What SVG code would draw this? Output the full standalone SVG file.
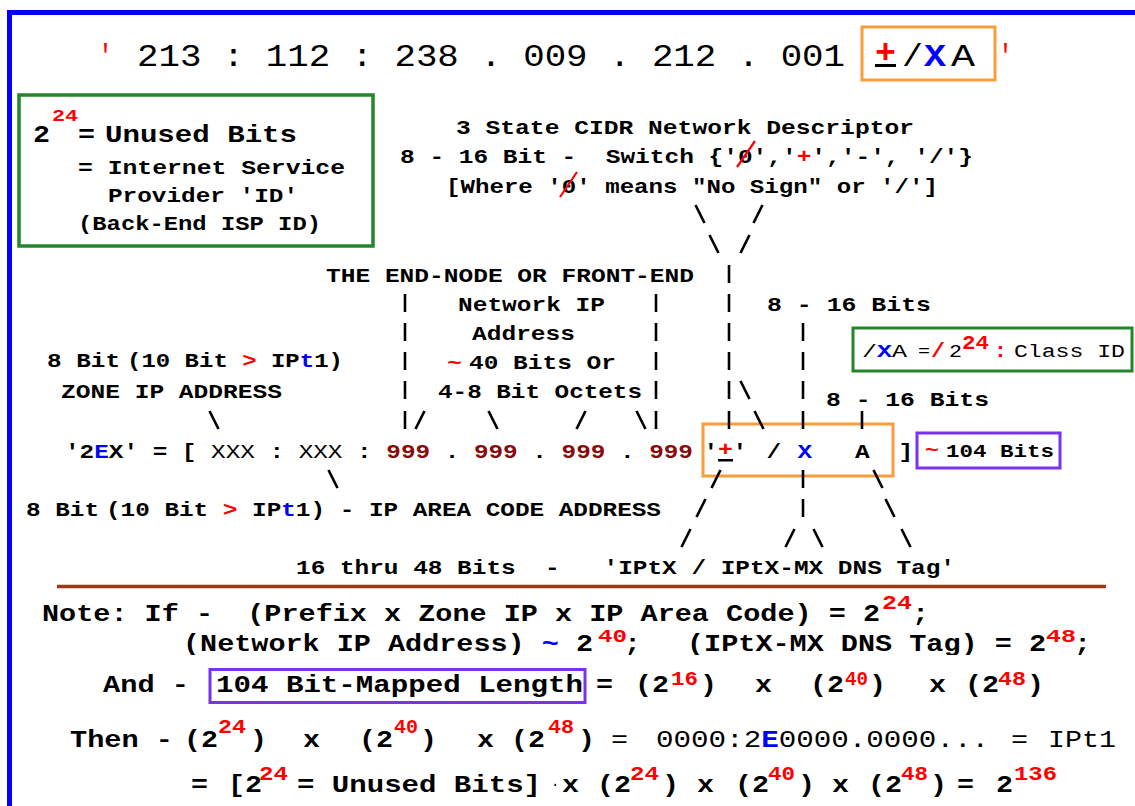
<svg xmlns="http://www.w3.org/2000/svg" width="1135" height="806" viewBox="0 0 1135 806">
<defs>
<style>
text{font-family:"Liberation Mono","Courier New",monospace;font-weight:bold;fill:#000;white-space:pre}
.n{font-weight:normal}
.r{fill:#ff0000}
.bl{fill:#0000ff}
.dr{fill:#8b0a0a}
.a{font-size:21px}
.g{font-size:24.5px}
.h{font-size:31px}
.sp{font-size:19.5px;fill:#ff0000}
.ss{font-size:17px;fill:#ff0000}
.c line{stroke:#000;stroke-width:2.6}
.grn{fill:none;stroke:#23872a}
.org{fill:none;stroke:#f89c3c;stroke-width:3}
.pur{fill:none;stroke:#7832f0;stroke-width:3}
</style>
<clipPath id="clipL2"><rect x="0" y="600" width="1135" height="55"/></clipPath>
</defs>
<rect width="1135" height="806" fill="#fff"/>
<rect x="9.5" y="12.5" width="1200" height="900" fill="none" stroke="#0000ff" stroke-width="5"/>

<g id="top-address">
<text class="n r h" x="98" y="66" textLength="15" lengthAdjust="spacingAndGlyphs">'</text>
<text class="n h" x="137" y="66" textLength="708" lengthAdjust="spacingAndGlyphs">213 : 112 : 238 . 009 . 212 . 001</text>
<rect class="org" x="862" y="27" width="133" height="53"/>
<text class="r" font-size="34" x="875" y="63" textLength="21" lengthAdjust="spacingAndGlyphs">+</text>
<rect x="875" y="64" width="21" height="3"/>
<text class="n h" x="902" y="66" textLength="21" lengthAdjust="spacingAndGlyphs">/</text>
<text class="bl h" x="924" y="66" textLength="22" lengthAdjust="spacingAndGlyphs">X</text>
<text class="n h" x="951" y="66" textLength="24" lengthAdjust="spacingAndGlyphs">A</text>
<text class="n r h" x="998" y="66" textLength="15" lengthAdjust="spacingAndGlyphs">'</text>
</g>

<g id="isp-box">
<rect class="grn" x="19" y="95" width="354" height="151" stroke-width="3.5"/>
<text font-size="24.5" x="33" y="142" textLength="17" lengthAdjust="spacingAndGlyphs">2</text>
<text class="ss" x="52" y="121" textLength="26" lengthAdjust="spacingAndGlyphs">24</text>
<text font-size="24.5" x="78" y="142" textLength="17" lengthAdjust="spacingAndGlyphs">=</text>
<text font-size="24.5" x="105" y="142" textLength="192" lengthAdjust="spacingAndGlyphs">Unused Bits</text>
<text class="a" x="78" y="174" textLength="267" lengthAdjust="spacingAndGlyphs">= Internet Service</text>
<text class="a" x="108" y="202" textLength="190" lengthAdjust="spacingAndGlyphs">Provider 'ID'</text>
<text class="a" x="78" y="230" textLength="243" lengthAdjust="spacingAndGlyphs">(Back-End ISP ID)</text>
</g>

<g id="cidr-descriptor">
<text class="a" x="456" y="134" textLength="458" lengthAdjust="spacingAndGlyphs">3 State CIDR Network Descriptor</text>
<text class="a" x="400" y="163" textLength="573" lengthAdjust="spacingAndGlyphs">8 - 16 Bit -  Switch {'0','<tspan class="r">+</tspan>','-', '/'}</text>
<line x1="737" y1="167" x2="755" y2="141" stroke="#ff0000" stroke-width="2.2"/>
<text class="a" x="446" y="193" textLength="492" lengthAdjust="spacingAndGlyphs">[Where '0' means "No Sign" or '/']</text>
<line x1="560" y1="197" x2="577" y2="172" stroke="#ff0000" stroke-width="2.2"/>
</g>

<g id="end-node">
<text class="a" x="326" y="282" textLength="368" lengthAdjust="spacingAndGlyphs">THE END-NODE OR FRONT-END</text>
<text class="a" x="458" y="311" textLength="147" lengthAdjust="spacingAndGlyphs">Network IP</text>
<text class="a" x="472" y="340" textLength="103" lengthAdjust="spacingAndGlyphs">Address</text>
<text class="a r" x="447" y="369" textLength="15" lengthAdjust="spacingAndGlyphs">~</text>
<text class="a" x="469" y="369" textLength="147" lengthAdjust="spacingAndGlyphs">40 Bits Or</text>
<text class="a" x="438" y="398" textLength="204" lengthAdjust="spacingAndGlyphs">4-8 Bit Octets</text>
</g>

<g id="zone-ip">
<text class="a" x="47" y="367" textLength="73" lengthAdjust="spacingAndGlyphs">8 Bit</text>
<text class="a" x="127" y="367" textLength="216" lengthAdjust="spacingAndGlyphs">(10 Bit <tspan class="r">&gt;</tspan> IP<tspan class="bl">t</tspan>1)</text>
<text class="a" x="61" y="398" textLength="221" lengthAdjust="spacingAndGlyphs">ZONE IP ADDRESS</text>
</g>

<g id="bits-a">
<text class="a" x="767" y="311" textLength="164" lengthAdjust="spacingAndGlyphs">8 - 16 Bits</text>
</g>
<g id="bits-b">
<text class="a" x="826" y="406" textLength="163" lengthAdjust="spacingAndGlyphs">8 - 16 Bits</text>
</g>

<g id="class-id">
<rect class="grn" x="853" y="328" width="279" height="43" stroke-width="3"/>
<text class="n" font-size="19" x="862" y="357" textLength="45" lengthAdjust="spacingAndGlyphs">/<tspan class="bl" font-weight="bold">X</tspan>A</text>
<text class="n" font-size="15" x="918" y="356" textLength="12" lengthAdjust="spacingAndGlyphs">=</text>
<text class="r" font-size="21" x="931" y="357" textLength="14" lengthAdjust="spacingAndGlyphs">/</text>
<text class="n" font-size="19" x="949" y="357" textLength="13" lengthAdjust="spacingAndGlyphs">2</text>
<text class="sp" x="962" y="349" textLength="27" lengthAdjust="spacingAndGlyphs">24</text>
<text class="r" font-size="21" x="994" y="357" textLength="13" lengthAdjust="spacingAndGlyphs">:</text>
<text class="n" font-size="19" x="1014" y="357" textLength="111" lengthAdjust="spacingAndGlyphs">Class ID</text>
</g>

<g id="address-2ex">
<text class="a" x="65" y="458" textLength="628" lengthAdjust="spacingAndGlyphs">'2<tspan class="bl">E</tspan>X' = [ <tspan class="n">XXX</tspan> : <tspan class="n">XXX</tspan> : <tspan class="dr">999</tspan> . <tspan class="dr">999</tspan> . <tspan class="dr">999</tspan> . <tspan class="dr">999</tspan></text>
<text class="a" x="898.6" y="458" textLength="14.7" lengthAdjust="spacingAndGlyphs">]</text>
</g>

<g id="switch-box">
<rect class="org" x="703" y="424" width="190" height="52"/>
<text class="a" x="703.6" y="458" textLength="14.7" lengthAdjust="spacingAndGlyphs">'</text>
<text class="a r" x="718" y="456" textLength="15" lengthAdjust="spacingAndGlyphs">+</text>
<rect x="718" y="459" width="15" height="2.5"/>
<text class="a" x="732.6" y="458" textLength="14.7" lengthAdjust="spacingAndGlyphs">'</text>
<text class="a" x="766.6" y="458" textLength="14.7" lengthAdjust="spacingAndGlyphs">/</text>
<text class="a bl" x="797.6" y="458" textLength="14.7" lengthAdjust="spacingAndGlyphs">X</text>
<text class="a" x="855" y="458" textLength="14.7" lengthAdjust="spacingAndGlyphs">A</text>
</g>

<g id="bits-104">
<rect class="pur" x="917" y="433" width="143" height="35"/>
<text class="r" font-size="19" x="925" y="456" textLength="14" lengthAdjust="spacingAndGlyphs">~</text>
<text font-size="19" x="946" y="457" textLength="108" lengthAdjust="spacingAndGlyphs">104 Bits</text>
</g>

<g id="area-code">
<text class="a" x="26" y="516" textLength="73" lengthAdjust="spacingAndGlyphs">8 Bit</text>
<text class="a" x="106" y="516" textLength="555" lengthAdjust="spacingAndGlyphs">(10 Bit <tspan class="r">&gt;</tspan> IP<tspan class="bl">t</tspan>1) - IP AREA CODE ADDRESS</text>
</g>

<g id="dns-tag">
<text class="a" x="296" y="574" textLength="659" lengthAdjust="spacingAndGlyphs">16 thru 48 Bits  -   'IPtX / IPtX-MX DNS Tag'</text>
</g>

<g id="connectors" class="c">
<line x1="695.5" y1="205" x2="704.5" y2="223"/>
<line x1="762.5" y1="205" x2="753.5" y2="223"/>
<line x1="709.5" y1="235" x2="718.5" y2="253"/>
<line x1="749.5" y1="235" x2="740.5" y2="253"/>
<line x1="729" y1="265" x2="729" y2="283"/>
<line x1="405" y1="294" x2="405" y2="312"/>
<line x1="656" y1="294" x2="656" y2="312"/>
<line x1="729" y1="294" x2="729" y2="312"/>
<line x1="405" y1="323" x2="405" y2="341"/>
<line x1="656" y1="323" x2="656" y2="341"/>
<line x1="729" y1="323" x2="729" y2="341"/>
<line x1="803" y1="323" x2="803" y2="341"/>
<line x1="405" y1="352" x2="405" y2="370"/>
<line x1="656" y1="352" x2="656" y2="370"/>
<line x1="729" y1="352" x2="729" y2="370"/>
<line x1="803" y1="352" x2="803" y2="370"/>
<line x1="405" y1="381" x2="405" y2="399"/>
<line x1="656" y1="381" x2="656" y2="399"/>
<line x1="729" y1="381" x2="729" y2="399"/>
<line x1="740.5" y1="381" x2="749.5" y2="399"/>
<line x1="803" y1="381" x2="803" y2="399"/>
<line x1="209.5" y1="411" x2="218.5" y2="429"/>
<line x1="405" y1="411" x2="405" y2="429"/>
<line x1="424.5" y1="411" x2="415.5" y2="429"/>
<line x1="488.5" y1="411" x2="497.5" y2="429"/>
<line x1="585.5" y1="411" x2="576.5" y2="429"/>
<line x1="636.5" y1="411" x2="645.5" y2="429"/>
<line x1="656" y1="411" x2="656" y2="429"/>
<line x1="729" y1="411" x2="729" y2="429"/>
<line x1="754.5" y1="411" x2="763.5" y2="429"/>
<line x1="803" y1="411" x2="803" y2="429"/>
<line x1="862" y1="411" x2="862" y2="429"/>
<line x1="328.5" y1="470" x2="337.5" y2="488"/>
<line x1="720.5" y1="470" x2="711.5" y2="488"/>
<line x1="803" y1="470" x2="803" y2="488"/>
<line x1="873.5" y1="470" x2="882.5" y2="488"/>
<line x1="705.5" y1="499" x2="696.5" y2="517"/>
<line x1="803" y1="499" x2="803" y2="517"/>
<line x1="885.5" y1="499" x2="894.5" y2="517"/>
<line x1="690.5" y1="529" x2="681.5" y2="547"/>
<line x1="794.5" y1="529" x2="785.5" y2="547"/>
<line x1="813.5" y1="529" x2="822.5" y2="547"/>
<line x1="901.5" y1="529" x2="910.5" y2="547"/>
</g>

<line x1="57" y1="586.5" x2="1106" y2="586.5" stroke="#9a3b12" stroke-width="3.5"/>

<g id="notes">
<text class="g" x="42" y="621" textLength="838" lengthAdjust="spacingAndGlyphs">Note: If -  (Prefix x Zone IP x IP Area Code) = 2</text>
<text class="sp" x="882" y="609" textLength="30" lengthAdjust="spacingAndGlyphs">24</text>
<text class="g" x="912" y="621" textLength="17" lengthAdjust="spacingAndGlyphs">;</text>
<g clip-path="url(#clipL2)">
<text class="g" x="183" y="651" textLength="410" lengthAdjust="spacingAndGlyphs">(Network IP Address) <tspan class="bl">~</tspan> 2</text>
<text class="sp" style="font-size:18px" x="598" y="642" textLength="29" lengthAdjust="spacingAndGlyphs">40</text>
<text class="g" x="624" y="651" textLength="17" lengthAdjust="spacingAndGlyphs">;</text>
<text class="g" x="687" y="651" textLength="359" lengthAdjust="spacingAndGlyphs">(IPtX-MX DNS Tag) = 2</text>
<text class="sp" style="font-size:18px" x="1046" y="642" textLength="30" lengthAdjust="spacingAndGlyphs">48</text>
<text class="g" x="1074" y="651" textLength="17" lengthAdjust="spacingAndGlyphs">;</text>
</g>
<text class="g" x="103" y="692" textLength="86" lengthAdjust="spacingAndGlyphs">And -</text>
<rect class="pur" x="210" y="669.5" width="375" height="33" stroke-width="2.5"/>
<text class="g" x="216" y="692" textLength="367" lengthAdjust="spacingAndGlyphs">104 Bit-Mapped Length</text>
<text class="g" x="596" y="692" textLength="17" lengthAdjust="spacingAndGlyphs">=</text>
<text class="g" x="635" y="692" textLength="34" lengthAdjust="spacingAndGlyphs">(2</text>
<text class="sp" x="671" y="685" textLength="27" lengthAdjust="spacingAndGlyphs">16</text>
<text class="g" x="700" y="692" textLength="17" lengthAdjust="spacingAndGlyphs">)</text>
<text class="g" x="755" y="692" textLength="17" lengthAdjust="spacingAndGlyphs">x</text>
<text class="g" x="810" y="692" textLength="34" lengthAdjust="spacingAndGlyphs">(2</text>
<text class="sp" x="845" y="685" textLength="23" lengthAdjust="spacingAndGlyphs">40</text>
<text class="g" x="869" y="692" textLength="17" lengthAdjust="spacingAndGlyphs">)</text>
<text class="g" x="929" y="692" textLength="17" lengthAdjust="spacingAndGlyphs">x</text>
<text class="g" x="965" y="692" textLength="34" lengthAdjust="spacingAndGlyphs">(2</text>
<text class="sp" x="998" y="685" textLength="28" lengthAdjust="spacingAndGlyphs">48</text>
<text class="g" x="1027" y="692" textLength="17" lengthAdjust="spacingAndGlyphs">)</text>

<text class="g" x="70" y="747" textLength="103" lengthAdjust="spacingAndGlyphs">Then -</text>
<text class="g" x="184" y="747" textLength="34" lengthAdjust="spacingAndGlyphs">(2</text>
<text class="sp" x="218" y="733" textLength="28" lengthAdjust="spacingAndGlyphs">24</text>
<text class="g" x="250" y="747" textLength="17" lengthAdjust="spacingAndGlyphs">)</text>
<text class="g" x="303" y="747" textLength="17" lengthAdjust="spacingAndGlyphs">x</text>
<text class="g" x="359" y="747" textLength="34" lengthAdjust="spacingAndGlyphs">(2</text>
<text class="sp" x="394" y="733" textLength="24" lengthAdjust="spacingAndGlyphs">40</text>
<text class="g" x="420" y="747" textLength="17" lengthAdjust="spacingAndGlyphs">)</text>
<text class="g" x="477" y="747" textLength="17" lengthAdjust="spacingAndGlyphs">x</text>
<text class="g" x="511" y="747" textLength="34" lengthAdjust="spacingAndGlyphs">(2</text>
<text class="sp" x="548" y="733" textLength="26" lengthAdjust="spacingAndGlyphs">48</text>
<text class="g" x="578" y="747" textLength="17" lengthAdjust="spacingAndGlyphs">)</text>
<text class="g n" x="611" y="747" textLength="17" lengthAdjust="spacingAndGlyphs">=</text>
<text class="g n" x="656" y="747" textLength="333" lengthAdjust="spacingAndGlyphs">0000:2<tspan class="bl" font-weight="bold">E</tspan>0000.0000...</text>
<text class="g n" x="1011" y="747" textLength="17" lengthAdjust="spacingAndGlyphs">=</text>
<text class="g n" x="1048" y="747" textLength="68" lengthAdjust="spacingAndGlyphs">IPt1</text>

<text class="g" x="191" y="792" textLength="17" lengthAdjust="spacingAndGlyphs">=</text>
<text class="g" x="228" y="792" textLength="34" lengthAdjust="spacingAndGlyphs">[2</text>
<text class="sp" x="259" y="780" textLength="29" lengthAdjust="spacingAndGlyphs">24</text>
<text class="g" x="297" y="792" textLength="244" lengthAdjust="spacingAndGlyphs">= Unused Bits]</text>
<text class="n" font-size="14" fill="#555" x="551" y="789">·</text>
<text class="g" x="562" y="792" textLength="17" lengthAdjust="spacingAndGlyphs">x</text>
<text class="g" x="597" y="792" textLength="34" lengthAdjust="spacingAndGlyphs">(2</text>
<text class="sp" x="630" y="780" textLength="29" lengthAdjust="spacingAndGlyphs">24</text>
<text class="g" x="662" y="792" textLength="17" lengthAdjust="spacingAndGlyphs">)</text>
<text class="g" x="697" y="792" textLength="17" lengthAdjust="spacingAndGlyphs">x</text>
<text class="g" x="735" y="792" textLength="34" lengthAdjust="spacingAndGlyphs">(2</text>
<text class="sp" x="768" y="780" textLength="27" lengthAdjust="spacingAndGlyphs">40</text>
<text class="g" x="798" y="792" textLength="17" lengthAdjust="spacingAndGlyphs">)</text>
<text class="g" x="832" y="792" textLength="17" lengthAdjust="spacingAndGlyphs">x</text>
<text class="g" x="868" y="792" textLength="34" lengthAdjust="spacingAndGlyphs">(2</text>
<text class="sp" x="901" y="780" textLength="27" lengthAdjust="spacingAndGlyphs">48</text>
<text class="g" x="930" y="792" textLength="17" lengthAdjust="spacingAndGlyphs">)</text>
<text class="g" x="957" y="792" textLength="17" lengthAdjust="spacingAndGlyphs">=</text>
<text class="g" x="996" y="792" textLength="17" lengthAdjust="spacingAndGlyphs">2</text>
<text class="sp" x="1014" y="780" textLength="43" lengthAdjust="spacingAndGlyphs">136</text>
</g>
</svg>
